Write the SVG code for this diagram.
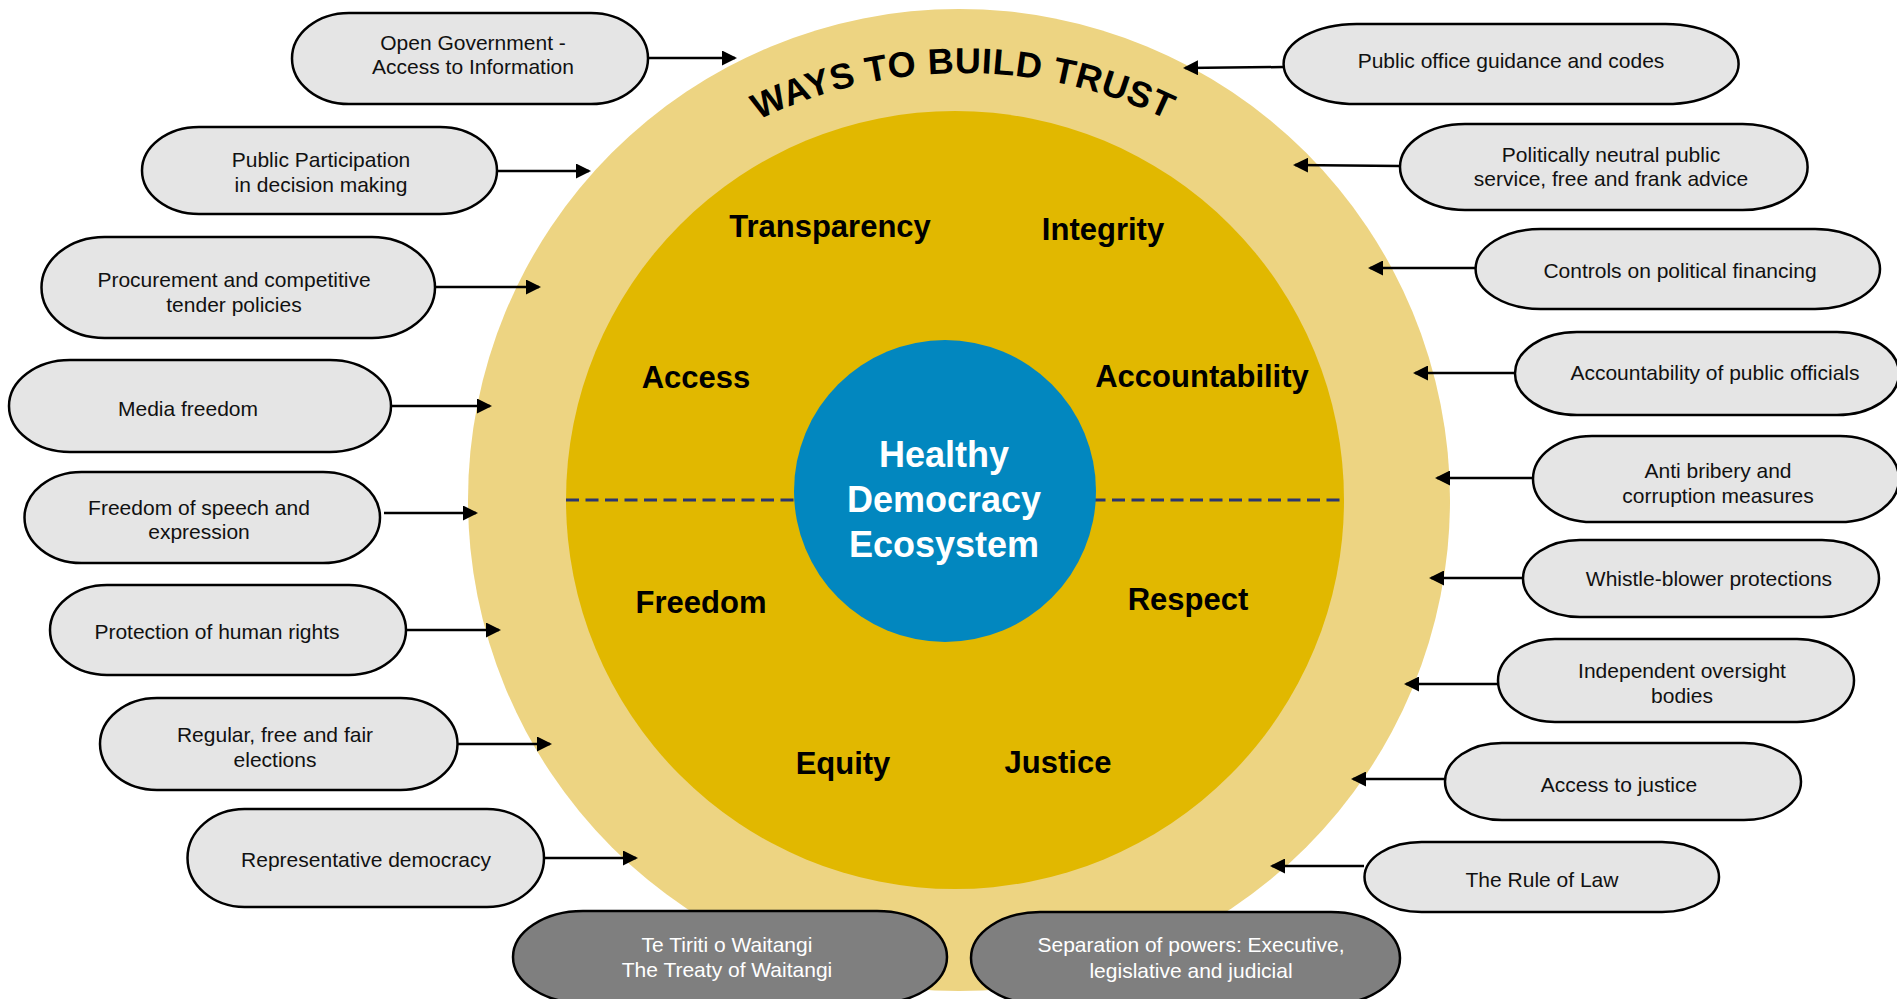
<svg xmlns="http://www.w3.org/2000/svg" width="1897" height="999" viewBox="0 0 1897 999">
<style>
.box{fill:#E5E5E5;stroke:#000;stroke-width:2.5}
.dbox{fill:#7F7F7F;stroke:#000;stroke-width:2.5}
.bt{font-family:"Liberation Sans",Arial,sans-serif;font-size:21px;fill:#111;text-anchor:middle}
.wt{font-family:"Liberation Sans",Arial,sans-serif;font-size:21px;fill:#fff;text-anchor:middle}
.lbl{font-family:"Liberation Sans",Arial,sans-serif;font-size:31px;font-weight:bold;fill:#000;text-anchor:middle}
.ctr{font-family:"Liberation Sans",Arial,sans-serif;font-size:36px;font-weight:bold;fill:#fff;text-anchor:middle}
.arr{stroke:#000;stroke-width:2.5;fill:none;marker-end:url(#ah)}
</style>
<defs>
<marker id="ah" markerUnits="userSpaceOnUse" markerWidth="15" markerHeight="15" refX="13" refY="7.5" orient="auto">
<path d="M0,0 L15,7.5 L0,15 z" fill="#000"/>
</marker>
<path id="arc" d="M556,308 A470,470 0 0 1 1370,308"/>
</defs>
<rect width="1897" height="999" fill="#fff"/>

<g id="ecosystem">
<circle cx="959" cy="500" r="491" fill="#EDD482"/>
<circle cx="955" cy="500" r="389" fill="#E1B800"/>
<line x1="566" y1="500" x2="1344" y2="500" stroke="#2B3670" stroke-width="3" stroke-dasharray="13 6.5"/>
<circle cx="945" cy="491" r="151" fill="#0287BF"/>
<text class="ctr" x="944" y="467">Healthy</text>
<text class="ctr" x="944" y="512">Democracy</text>
<text class="ctr" x="944" y="557">Ecosystem</text>
<text font-family="'Liberation Sans',Arial,sans-serif" font-size="36" font-weight="bold" letter-spacing="0.6" fill="#000" text-anchor="middle"><textPath href="#arc" startOffset="50%">WAYS TO BUILD TRUST</textPath></text>
<text class="lbl" x="830" y="237">Transparency</text>
<text class="lbl" x="1103" y="240">Integrity</text>
<text class="lbl" x="696" y="388">Access</text>
<text class="lbl" x="1202" y="387">Accountability</text>
<text class="lbl" x="701" y="613">Freedom</text>
<text class="lbl" x="1188" y="610">Respect</text>
<text class="lbl" x="843" y="774">Equity</text>
<text class="lbl" x="1058" y="773">Justice</text>
</g>

<g id="connectors">
<line class="arr" x1="648" y1="58" x2="735" y2="58"/>
<line class="arr" x1="497" y1="171" x2="589" y2="171"/>
<line class="arr" x1="435" y1="287" x2="539" y2="287"/>
<line class="arr" x1="391" y1="406" x2="490" y2="406"/>
<line class="arr" x1="384" y1="513" x2="476" y2="513"/>
<line class="arr" x1="406" y1="630" x2="499" y2="630"/>
<line class="arr" x1="457" y1="744" x2="550" y2="744"/>
<line class="arr" x1="544" y1="858" x2="636" y2="858"/>
<line class="arr" x1="1283" y1="67" x2="1185" y2="68"/>
<line class="arr" x1="1400" y1="166" x2="1295" y2="165"/>
<line class="arr" x1="1475" y1="268" x2="1370" y2="268"/>
<line class="arr" x1="1515" y1="373" x2="1415" y2="373"/>
<line class="arr" x1="1533" y1="478" x2="1437" y2="478"/>
<line class="arr" x1="1523" y1="578" x2="1431" y2="578"/>
<line class="arr" x1="1498" y1="684" x2="1406" y2="684"/>
<line class="arr" x1="1445" y1="779" x2="1353" y2="779"/>
<line class="arr" x1="1364" y1="866" x2="1272" y2="866"/>
</g>

<g id="n-open-government"><rect class="box" x="292" y="13" width="356" height="91" rx="57" ry="45.5"/><text class="bt" x="473" y="50">Open Government -</text><text class="bt" x="473" y="74">Access to Information</text></g>
<g id="n-public-participation"><rect class="box" x="142" y="127" width="355" height="87" rx="57" ry="43.5"/><text class="bt" x="321" y="167">Public Participation</text><text class="bt" x="321" y="192">in decision making</text></g>
<g id="n-procurement"><rect class="box" x="41.5" y="237" width="393.5" height="101" rx="63" ry="50.5"/><text class="bt" x="234" y="287">Procurement and competitive</text><text class="bt" x="234" y="312">tender policies</text></g>
<g id="n-media-freedom"><rect class="box" x="9" y="360" width="382" height="92" rx="61" ry="46"/><text class="bt" x="188" y="416">Media freedom</text></g>
<g id="n-freedom-speech"><rect class="box" x="24.5" y="472" width="355.5" height="91" rx="57" ry="45.5"/><text class="bt" x="199" y="515">Freedom of speech and</text><text class="bt" x="199" y="539">expression</text></g>
<g id="n-human-rights"><rect class="box" x="50" y="585" width="356" height="90" rx="57" ry="45"/><text class="bt" x="217" y="639">Protection of human rights</text></g>
<g id="n-elections"><rect class="box" x="100" y="698" width="357.5" height="92" rx="57" ry="46"/><text class="bt" x="275" y="742">Regular, free and fair</text><text class="bt" x="275" y="767">elections</text></g>
<g id="n-representative"><rect class="box" x="187.5" y="809" width="356.5" height="98" rx="57" ry="49"/><text class="bt" x="366" y="867">Representative democracy</text></g>
<g id="n-te-tiriti"><rect class="dbox" x="513" y="911" width="434" height="92" rx="70" ry="46"/><text class="wt" x="727" y="952">Te Tiriti o Waitangi</text><text class="wt" x="727" y="977">The Treaty of Waitangi</text></g>
<g id="n-separation"><rect class="dbox" x="971" y="912" width="429" height="92" rx="69" ry="46"/><text class="wt" x="1191" y="952">Separation of powers: Executive,</text><text class="wt" x="1191" y="978">legislative and judicial</text></g>

<g id="n-public-office"><rect class="box" x="1283.6" y="24" width="455" height="80" rx="73" ry="40"/><text class="bt" x="1511" y="68">Public office guidance and codes</text></g>
<g id="n-politically-neutral"><rect class="box" x="1400" y="124" width="407.6" height="86" rx="65" ry="43"/><text class="bt" x="1611" y="162">Politically neutral public</text><text class="bt" x="1611" y="186">service, free and frank advice</text></g>
<g id="n-political-financing"><rect class="box" x="1475.6" y="229" width="404.4" height="80" rx="65" ry="40"/><text class="bt" x="1680" y="278">Controls on political financing</text></g>
<g id="n-accountability-officials"><rect class="box" x="1515" y="332" width="384" height="83" rx="62" ry="41.5"/><text class="bt" x="1715" y="380">Accountability of public officials</text></g>
<g id="n-anti-bribery"><rect class="box" x="1533" y="436" width="366" height="86" rx="59" ry="43"/><text class="bt" x="1718" y="478">Anti bribery and</text><text class="bt" x="1718" y="503">corruption measures</text></g>
<g id="n-whistle-blower"><rect class="box" x="1523" y="540" width="356" height="77" rx="57" ry="38.5"/><text class="bt" x="1709" y="586">Whistle-blower protections</text></g>
<g id="n-independent-oversight"><rect class="box" x="1498" y="639" width="356" height="83" rx="57" ry="41.5"/><text class="bt" x="1682" y="678">Independent oversight</text><text class="bt" x="1682" y="703">bodies</text></g>
<g id="n-access-justice"><rect class="box" x="1445" y="743" width="356" height="77" rx="57" ry="38.5"/><text class="bt" x="1619" y="792">Access to justice</text></g>
<g id="n-rule-of-law"><rect class="box" x="1364.5" y="842" width="354.5" height="70" rx="57" ry="35"/><text class="bt" x="1542" y="887">The Rule of Law</text></g>
</svg>
